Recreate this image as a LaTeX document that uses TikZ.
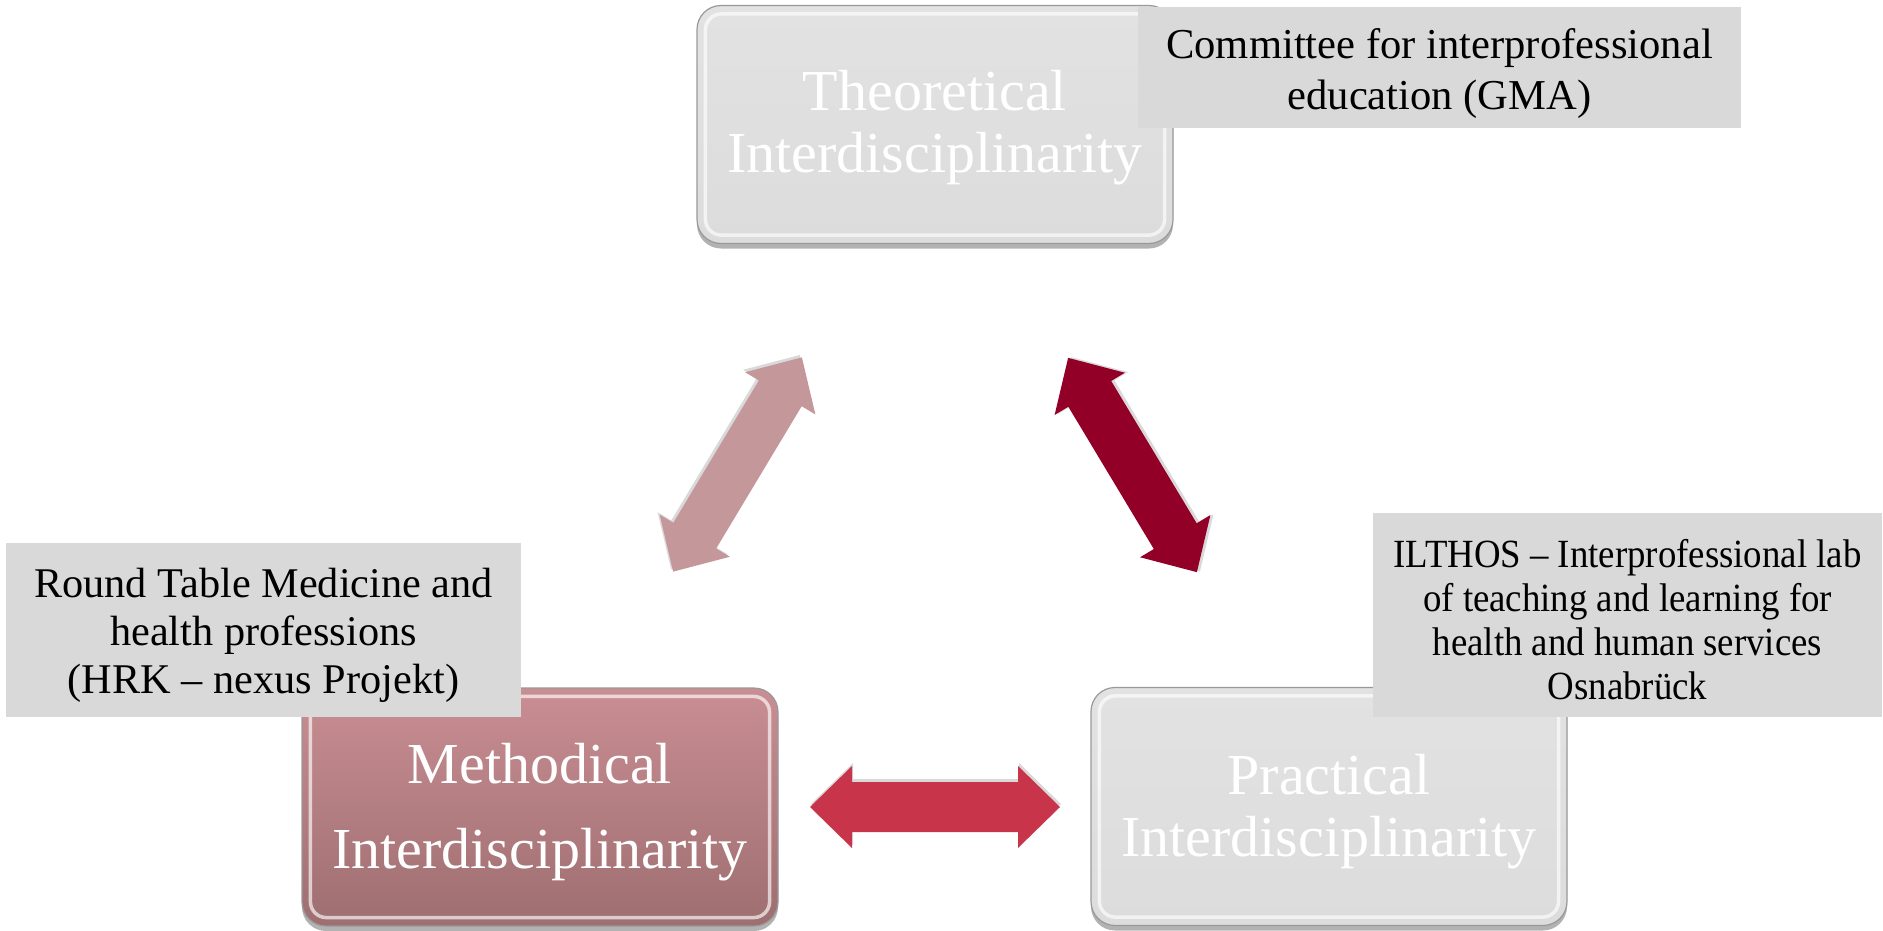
\documentclass[tikz,border=0pt]{standalone}
\usepackage{fontspec}
\setmainfont{Liberation Serif}
\usetikzlibrary{shadows}
\definecolor{boxgray}{HTML}{E2E2E2}
\definecolor{boxgraybot}{HTML}{DCDCDC}
\definecolor{labgray}{HTML}{D9D9D9}
\definecolor{methtop}{HTML}{C98E93}
\definecolor{methbot}{HTML}{9E6E70}
\definecolor{arrpink}{HTML}{C4979B}
\definecolor{arrdark}{HTML}{920028}
\definecolor{arrred}{HTML}{C8344A}
\tikzset{
  mainbox/.style={rounded corners=24, minimum width=476, minimum height=238,
    draw=black!40, line width=1.2, inner sep=0,
    drop shadow={shadow xshift=0pt, shadow yshift=-5pt, opacity=0.3, fill=black}},
  graybox/.style={mainbox, top color=boxgray, bottom color=boxgraybot},
  methbox/.style={mainbox, top color=methtop, bottom color=methbot},
  boxtext/.style={text=white, align=center, inner sep=0, font=\fontsize{58}{62}\selectfont},
  rimlight/.style={draw=white, line width=3.5, opacity=0.65, rounded corners=16},
  labelbox/.style={fill=labgray, inner sep=0},
  labeltext/.style={inner sep=0, align=center, text=black},
  dblarrow/.pic={
    \fill[black, opacity=0.15] (-124,-3) -- (-82,38) -- (-82,22) -- (84,22) -- (84,38) -- (126,-3) -- (84,-44) -- (84,-28) -- (-82,-28) -- (-82,-44) -- cycle;
    \fill[pic actions] (-125,0) -- (-83,41) -- (-83,25) -- (83,25) -- (83,41) -- (125,0) -- (83,-41) -- (83,-25) -- (-83,-25) -- (-83,-41) -- cycle;
  }
}
\begin{document}
\begin{tikzpicture}[x=1pt, y=-1pt]
\useasboundingbox (0,0) rectangle (1883,930);

% main boxes
\node[graybox] (theo) at (935,124.5) {};
\draw[rimlight] ([shift={(9,9)}]theo.north west) rectangle ([shift={(-9,-9)}]theo.south east);
\node[boxtext] (theoT) at (935,127.5) {Theoretical\\Interdisciplinarity};

\node[methbox] (meth) at (540,807) {};
\draw[rimlight] ([shift={(9,9)}]meth.north west) rectangle ([shift={(-9,-9)}]meth.south east);
\node[boxtext, font=\fontsize{58}{85}\selectfont] (methT) at (540,812) {Methodical\\Interdisciplinarity};

\node[graybox] (prac) at (1329,806.5) {};
\draw[rimlight] ([shift={(9,9)}]prac.north west) rectangle ([shift={(-9,-9)}]prac.south east);
\node[boxtext] (pracT) at (1329,812) {Practical\\Interdisciplinarity};

% block arrows
\pic[fill=arrpink, rotate=59] (a1) at (737.5,464.5) {dblarrow};
\pic[fill=arrdark, rotate=-59] (a2) at (1132.5,465) {dblarrow};
\pic[fill=arrred] (a3) at (935,807) {dblarrow};

% labels
\node[labelbox, minimum width=603, minimum height=121] (gma) at (1439.5,67.5) {};
\node[labeltext, font=\fontsize{42.6}{50.4}\selectfont] (gmaT) at (1439.5,73.5)
  {Committee for interprofessional\\education (GMA)};
\node[labelbox, minimum width=515, minimum height=174] (hrk) at (263.5,630) {};
\node[labeltext, font=\fontsize{42.3}{48}\selectfont] (hrkT) at (263.5,635.5)
  {Round Table Medicine and\\health professions\\(HRK -- nexus Projekt)};
\node[labelbox, minimum width=509, minimum height=204] (ilthos) at (1627.5,615) {};
\node[labeltext, font=\fontsize{40}{44}\selectfont] (ilthosT) at (1627.5,625)
  {\scalebox{0.92}[1]{\begin{tabular}{@{}c@{}}ILTHOS -- Interprofessional lab\\of teaching and learning for\\health and human services\\Osnabrück\end{tabular}}};
\end{tikzpicture}
\end{document}
